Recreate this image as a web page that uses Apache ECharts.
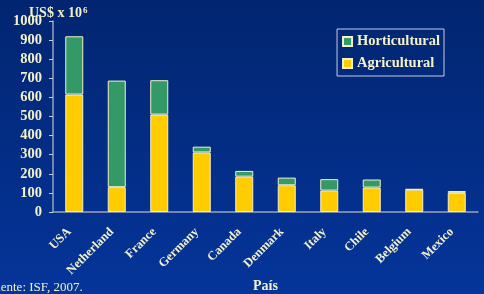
<!DOCTYPE html>
<html><head><meta charset="utf-8">
<script src="https://cdn.jsdelivr.net/npm/echarts@6/dist/echarts.min.js"></script>
<style>html,body{margin:0;padding:0;background:#05307f}#c{width:484px;height:294px}</style>
</head><body><div id="c"></div>
<script>
const categories = ['USA','Netherland','France','Germany','Canada','Denmark','Italy','Chile','Belgium','Mexico'];
const agricultural = [615, 130, 510, 312, 185, 140, 112, 128, 117, 100];
const horticultural = [305, 558, 180, 30, 30, 40, 60, 42, 3, 10];
const yTicks = [0, 1000, 100];
const txt = '#f4f0c8';
const serif = '"Liberation Serif", "DejaVu Serif", serif';
const chart = echarts.init(document.getElementById('c'));
chart.setOption({
  animation: false,
  backgroundColor: {type:'linear', x:0, y:0, x2:0, y2:1, colorStops:[{offset:0,color:'#012570'},{offset:1,color:'#05359a'}]},
  grid: {left:53, right:6, top:21, bottom:82},
  legend: {
    right: 40, top: 29, orient: 'vertical', itemGap: 7,
    itemWidth: 9, itemHeight: 9, icon: 'rect',
    borderColor: '#c8cce0', borderWidth: 1, padding: [5,4,5,5],
    data: ['Horticultural','Agricultural'],
    textStyle: {color: txt, fontFamily: serif, fontWeight: 'bold', fontSize: 14.5}
  },
  xAxis: {
    type:'category', data: categories,
    axisLine:{lineStyle:{color:'#9aa2bf', width:1.5}},
    axisTick:{length:4, lineStyle:{color:'#c8cce0'}},
    axisLabel:{rotate:45, color: txt, fontFamily: serif, fontWeight:'bold', fontSize:12.5, margin:13, interval:0, padding:[0,7,0,0]}
  },
  yAxis: {
    type:'value', min: yTicks[0], max: yTicks[1], interval: yTicks[2],
    splitLine:{show:false},
    axisLine:{show:true, lineStyle:{color:'#9aa2bf', width:1.5}},
    axisTick:{show:true, length:4, lineStyle:{color:'#c8cce0'}},
    axisLabel:{color: txt, fontFamily: serif, fontWeight:'bold', fontSize:14.5, margin:11, formatter: v => String(v)}
  },
  series: [
    {name:'Agricultural', type:'bar', stack:'t', data: agricultural, barWidth:18,
     itemStyle:{color:'#ffcc00', borderColor:'#f4f0c8', borderWidth:1}},
    {name:'Horticultural', type:'bar', stack:'t', data: horticultural, barWidth:18,
     itemStyle:{color:'#339966', borderColor:'#f4f0c8', borderWidth:1}}
  ],
  graphic: [
    {type:'text', left:29, top:6, style:{rich:{a:{fill:txt, font:'bold 14px '+serif}, s:{fill:txt, font:'bold 9px '+serif, verticalAlign:'top', padding:[0,0,6,1]}}, text:'{a|US$ x 10}{s|6}'}},
    {type:'text', left:253, top:279, style:{text:'País', fill:txt, font:'bold 14px '+serif}},
    {type:'text', left:-13, top:281, style:{text:'Fuente: ISF, 2007.', fill:txt, font:'13px '+serif}}
  ]
});
</script></body></html>
